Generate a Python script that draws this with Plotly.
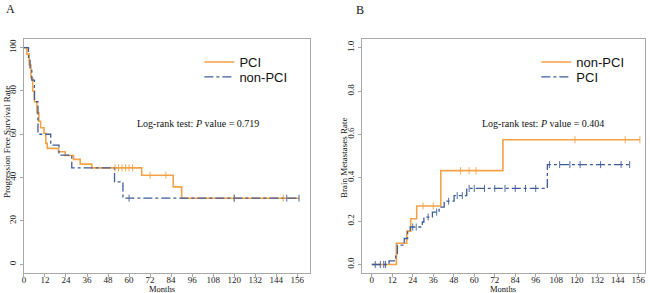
import plotly.graph_objects as go

# ---------------- Panel A: Progression free survival ----------------
a_pci_t = [0, 1.7, 3, 4, 5, 6, 7.4, 8.5, 9.5, 11.5, 12.5, 13.3, 19.7, 23.5, 28.3, 32.1, 38.7, 67.2, 85.2, 90, 157]
a_pci_s = [100, 97, 92, 86, 80, 75, 70, 66, 63, 60.5, 55.8, 53.5, 51.9, 50.2, 48.4, 46.2, 44.5, 41.1, 35.7, 30.5, 30.5]
a_pci_cens_t = [52, 54, 56, 58, 60, 62, 72, 81, 120, 148]
a_pci_cens_s = [44.5, 44.5, 44.5, 44.5, 44.5, 44.5, 41.1, 41.1, 30.5, 30.5]

a_non_t = [0, 2.6, 3.5, 4.5, 6, 8, 15.3, 20, 27.3, 51.7, 56.5, 157]
a_non_s = [100, 95, 90, 85, 75, 60, 55, 50.4, 44.5, 38, 30.5, 30.5]
a_non_cens_t = [60, 120, 150, 157]
a_non_cens_s = [30.5, 30.5, 30.5, 30.5]

# ---------------- Panel B: Brain metastases rate ----------------
b_non_t = [0, 14.4, 20.5, 22.8, 26.3, 40.4, 76.8, 157]
b_non_r = [0, 0.098, 0.154, 0.211, 0.27, 0.433, 0.576, 0.576]
b_non_cens_t = [30, 36, 52, 57, 61, 119, 148.4, 157]
b_non_cens_r = [0.27, 0.27, 0.433, 0.433, 0.433, 0.576, 0.576, 0.576]

b_pci_t = [0, 10.1, 14, 15, 19, 21, 22.5, 29.6, 30.5, 35.5, 39.4, 42.4, 48.2, 55.6, 102.8, 151.2]
b_pci_r = [0, 0.017, 0.05, 0.089, 0.12, 0.15, 0.173, 0.196, 0.219, 0.242, 0.265, 0.292, 0.318, 0.351, 0.461, 0.461]
b_pci_cens_t = [2, 5, 7, 8, 24, 26, 33, 38, 45, 50, 53, 57, 60, 66, 72, 78, 84, 90, 96, 104, 110, 116, 122, 134, 146, 151]
b_pci_cens_r = [0, 0, 0, 0, 0.173, 0.173, 0.219, 0.242, 0.292, 0.318, 0.318, 0.351, 0.351, 0.351, 0.351, 0.351, 0.351, 0.351, 0.351, 0.461, 0.461, 0.461, 0.461, 0.461, 0.461, 0.461]

x_ticks = list(range(0, 157, 12))
a_y_ticks = [0, 20, 40, 60, 80, 100]
b_y_ticks = [0.0, 0.2, 0.4, 0.6, 0.8, 1.0]
b_y_labels = ["0.0", "0.2", "0.4", "0.6", "0.8", "1.0"]

ORANGE = "#F3A247"
BLUE = "#3E5C9A"
SERIF = "Liberation Serif"
SANS = "Liberation Sans"

W, H = 650, 293
def px(x):
    return x / W
def py(y):
    return 1 - y / H

fig = go.Figure()

def censor(x, y, color, xa, ya):
    return go.Scatter(x=x, y=y, mode="markers", showlegend=False, hoverinfo="skip",
                      marker=dict(symbol="line-ns", size=5, line=dict(color=color, width=0.9)),
                      xaxis=xa, yaxis=ya)

# Panel A traces
fig.add_trace(go.Scatter(x=a_pci_t, y=a_pci_s, mode="lines", line=dict(color=ORANGE, width=1.6, shape="hv"),
                         name="PCI", xaxis="x", yaxis="y", legend="legend"))
fig.add_trace(go.Scatter(x=a_non_t, y=a_non_s, mode="lines", line=dict(color=BLUE, width=1.3, shape="hv", dash="dashdot"),
                         name="non-PCI", xaxis="x", yaxis="y", legend="legend3"))
fig.add_trace(censor(a_pci_cens_t, a_pci_cens_s, ORANGE, "x", "y"))
fig.add_trace(censor(a_non_cens_t, a_non_cens_s, BLUE, "x", "y"))

# Panel B traces
fig.add_trace(go.Scatter(x=b_non_t, y=b_non_r, mode="lines", line=dict(color=ORANGE, width=1.6, shape="hv"),
                         name="non-PCI", xaxis="x2", yaxis="y2", legend="legend2"))
fig.add_trace(go.Scatter(x=b_pci_t, y=b_pci_r, mode="lines", line=dict(color=BLUE, width=1.3, shape="hv", dash="dashdot"),
                         name="PCI", xaxis="x2", yaxis="y2", legend="legend4"))
fig.add_trace(censor(b_non_cens_t, b_non_cens_r, ORANGE, "x2", "y2"))
fig.add_trace(censor(b_pci_cens_t, b_pci_cens_r, BLUE, "x2", "y2"))

axis_common = dict(showline=True, linecolor="#A8A8A8", linewidth=1, mirror=True, showgrid=False, zeroline=False,
                   ticks="outside", ticklen=3, tickcolor="#A8A8A8", tickfont=dict(family=SERIF, size=9, color="#222"))

def leg(x, y):
    return dict(x=px(x), y=py(y), xanchor="left", yanchor="middle", bgcolor="rgba(0,0,0,0)",
                font=dict(family=SANS, size=13, color="#111"), itemwidth=30)

def note(text, x, y, size, angle=0, xanchor="center", yanchor="middle", family=SERIF):
    return dict(text=text, x=px(x), y=py(y), xref="paper", yref="paper", xanchor=xanchor, yanchor=yanchor,
                textangle=angle, showarrow=False, font=dict(family=family, size=size, color="#111"))

fig.update_layout(
    width=W, height=H, margin=dict(l=0, r=0, t=0, b=0),
    plot_bgcolor="white", paper_bgcolor="white",
    xaxis=dict(domain=[px(22), px(308.5)], range=[0, 163], tickvals=x_ticks, anchor="y",
               ticklabelstandoff=-4, **axis_common),
    yaxis=dict(domain=[py(272.5), py(38.5)], range=[-3.8, 104.2], tickvals=a_y_ticks, tickangle=-90, anchor="x", **axis_common),
    xaxis2=dict(domain=[px(361), px(645)], range=[-5.8, 160], tickvals=x_ticks, anchor="y2",
                ticklabelstandoff=-4, **axis_common),
    yaxis2=dict(domain=[py(272.5), py(38.5)], range=[-0.037, 1.043], tickvals=b_y_ticks, ticktext=b_y_labels,
                tickangle=-90, anchor="x2", **axis_common),
    legend=leg(198, 62),
    legend3=leg(198, 77),
    legend2=leg(536, 62),
    legend4=leg(536, 77),
    annotations=[
        note("A", 8.5, 0, 12, yanchor="top"),
        note("B", 359, 1.5, 12, yanchor="top"),
        note("Log-rank test: <i>P</i> value = 0.719", 196.5, 123, 10),
        note("Log-rank test: <i>P</i> value = 0.404", 542.5, 123, 10),
        note("Months", 160, 288.5, 8.5),
        note("Months", 503, 288.5, 8.5),
        note("Progression Free Survival Rate", 5, 142, 9, angle=-90),
        note("Brain Metastases Rate", 343, 158, 9, angle=-90),
    ],
)

fig.write_html("out.html", config={"displayModeBar": False},
               post_script="document.body.style.margin='0';document.body.style.overflow='hidden';")
